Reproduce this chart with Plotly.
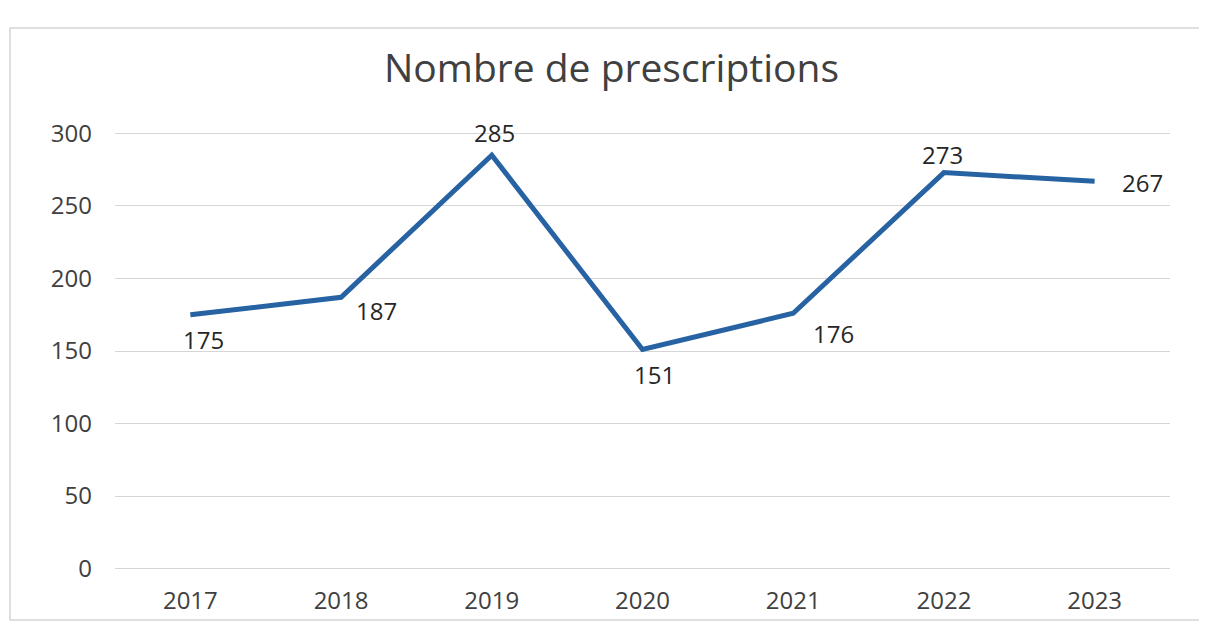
import plotly.graph_objects as go

years = ["2017", "2018", "2019", "2020", "2021", "2022", "2023"]
prescriptions = [175, 187, 285, 151, 176, 273, 267]
y_ticks = [0, 50, 100, 150, 200, 250, 300]

# pixel offsets of each data label relative to its point (style only)
label_dx = [13, 35, 3, 12, 40, -1, 48]
label_dy = [25, 13, -23, 25, 20, -18, 1]

FONT = "'Open Sans', sans-serif"
TEXT = "#404040"
OFF = 8  # page offset of the figure in the browser

fig = go.Figure()
fig.add_trace(go.Scatter(
    x=years, y=prescriptions,
    mode="lines",
    line=dict(color="#2763A3", width=5),
    showlegend=False,
    hoverinfo="x+y",
))

annotations = []
for i, (yv, dx, dy) in enumerate(zip(prescriptions, label_dx, label_dy)):
    annotations.append(dict(
        x=i, y=yv, xref="x", yref="y", text=str(yv), showarrow=False,
        xshift=dx, yshift=-dy,
        font=dict(family=FONT, size=24, color="#262626"),
    ))

H = 627
top, bottom = 132 - OFF, 570 - OFF
left, right = 115 - OFF, 1170 - OFF
fig.update_layout(
    width=1207, height=H,
    paper_bgcolor="white", plot_bgcolor="white",
    margin=dict(l=left, r=1207 - right, t=top, b=H - bottom),
    title=dict(text="Nombre de prescriptions", x=0.5, xanchor="center",
               y=1 - (68 - OFF) / H, yanchor="middle",
               font=dict(family=FONT, size=39, color=TEXT)),
    xaxis=dict(type="category", range=[-0.5, 6.5], showgrid=False,
               showline=False, zeroline=False, ticks="", ticklabelstandoff=14,
               tickfont=dict(family=FONT, size=24, color=TEXT)),
    yaxis=dict(range=[-1, 301], tickvals=y_ticks, showgrid=True,
               gridcolor="#D6D6D6", gridwidth=1, zeroline=False,
               showline=False, ticks="", ticklabelstandoff=22,
               tickfont=dict(family=FONT, size=24, color=TEXT)),
    annotations=annotations,
    shapes=[dict(type="rect", xref="paper", yref="paper",
                 x0=(10 - OFF - left) / (right - left),
                 x1=(1200 - OFF - left) / (right - left),
                 y0=(bottom - (620 - OFF)) / (bottom - top),
                 y1=(bottom - (28 - OFF)) / (bottom - top),
                 line=dict(color="#BFBFBF", width=1))],
)

fig.write_html("out.html")
